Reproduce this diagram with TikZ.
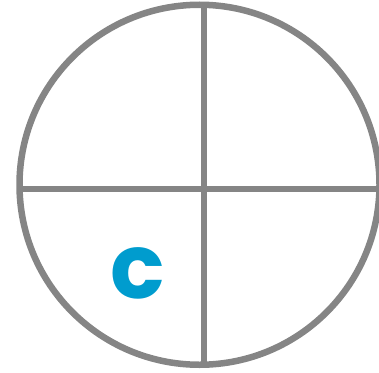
\documentclass[tikz,border=0pt]{standalone}
\usepackage{fontspec}
\newfontfamily\markfont{Poppins}
\usepackage{xcolor}
\usetikzlibrary{calc}
\definecolor{rimgray}{RGB}{133,133,133}
\definecolor{markblue}{RGB}{0,156,206}

\begin{document}
\begin{tikzpicture}[
	x=1pt, y=-1pt,
	rim/.style    = {draw=rimgray, line width=6.5pt},
	cross/.style  = {draw=rimgray, line width=6pt},
	letter/.style = {text=markblue, font=\markfont\bfseries\fontsize{90}{90}\selectfont, inner sep=0pt}
	]
	\useasboundingbox (0,0) rectangle (379,372);
	\clip (0,0) rectangle (379,372);
	
	% === === Nodes === ===
	\coordinate	(mid)	at	(199.5, 184.75);
	\coordinate	(top)	at	(204, 4);
	\coordinate	(bot)	at	(204, 366);
	\coordinate	(lft)	at	(20, 189);
	\coordinate	(rgt)	at	(381, 189);
	
	\node[letter]	(c)	at	(138, 273)	{c};
	
	
	% === === Lines === ===
	\draw[rim]	(mid)	circle	(180);
	\draw[cross]	(top)	--	(bot);
	\draw[cross]	(lft)	--	(rgt);
	
	
\end{tikzpicture}
\end{document}
